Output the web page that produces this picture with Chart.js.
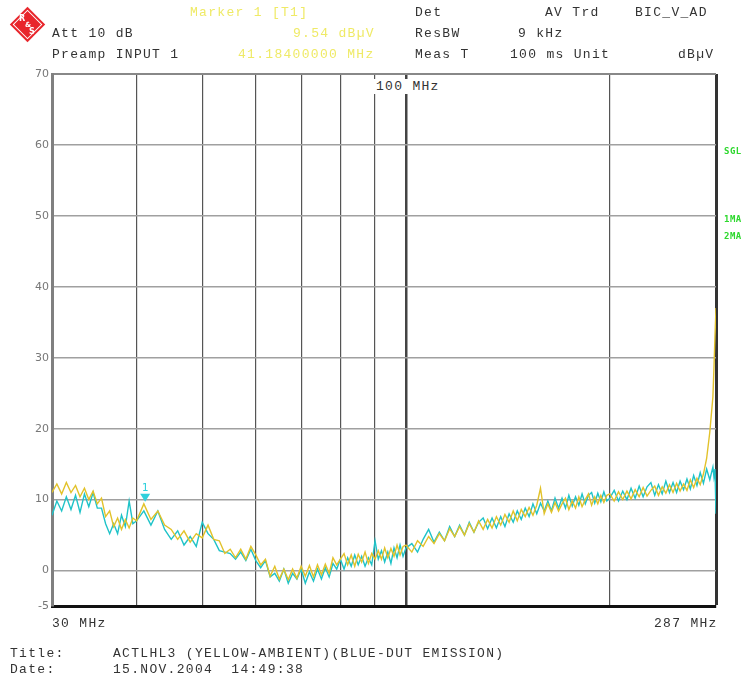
<!DOCTYPE html>
<html>
<head>
<meta charset="utf-8">
<script src="https://cdn.jsdelivr.net/npm/chart.js@4.4.1/dist/chart.umd.min.js"></script>
<style>
  html,body{margin:0;padding:0;background:#fff;}
  #wrap{position:relative;width:748px;height:681px;overflow:hidden;background:#fff;}
  #c{position:absolute;left:0;top:0;}
  .t{position:absolute;font-family:"Liberation Mono","DejaVu Sans Mono",monospace;font-size:13px;line-height:15px;letter-spacing:1.3px;color:#333;white-space:pre;}
  .y{color:#efea66;}
  .g{position:absolute;font-family:"DejaVu Sans Mono",monospace;font-size:9px;font-weight:bold;color:#2ed82e;letter-spacing:0.5px;line-height:11px;}
  #logo{position:absolute;left:15px;top:12px;width:25px;height:25px;background:#e8262c;transform:rotate(45deg);box-shadow:inset 0 0 0 2px #e8262c, inset 0 0 0 3px #fff;}
  .lg{position:absolute;font-family:"DejaVu Sans",sans-serif;font-size:8px;line-height:8px;font-weight:bold;color:#fff;}
</style>
</head>
<body>
<div id="wrap">
  <canvas id="c" width="748" height="681"></canvas>
  <div id="logo"></div>
  <div class="lg" style="left:19px;top:15px;">R</div>
  <div class="lg" style="left:25px;top:21px;font-size:7px;">&amp;</div>
  <div class="lg" style="left:29px;top:28px;">S</div>

  <div class="t y" style="left:190px;top:5px;">Marker 1 [T1]</div>
  <div class="t" style="left:52px;top:26px;">Att 10 dB</div>
  <div class="t y" style="left:293px;top:26px;">9.54 dBµV</div>
  <div class="t" style="left:52px;top:47px;">Preamp INPUT 1</div>
  <div class="t y" style="left:238px;top:47px;">41.18400000 MHz</div>

  <div class="t" style="left:415px;top:5px;">Det</div>
  <div class="t" style="left:545px;top:5px;">AV Trd</div>
  <div class="t" style="left:635px;top:5px;">BIC_V_AD</div>
  <div class="t" style="left:415px;top:26px;">ResBW</div>
  <div class="t" style="left:518px;top:26px;">9 kHz</div>
  <div class="t" style="left:415px;top:47px;">Meas T</div>
  <div class="t" style="left:510px;top:47px;">100 ms Unit</div>
  <div class="t" style="left:678px;top:47px;">dBµV</div>

  <div class="t" style="left:374px;top:79px;background:#fff;padding:0 2px;">100 MHz</div>

  <div class="g" style="left:724px;top:146px;">SGL</div>
  <div class="g" style="left:724px;top:214px;">1MA</div>
  <div class="g" style="left:724px;top:231px;">2MA</div>

  <div class="t" style="left:52px;top:616px;">30 MHz</div>
  <div class="t" style="left:654px;top:616px;">287 MHz</div>
  <div class="t" style="left:10px;top:646px;">Title:</div>
  <div class="t" style="left:113px;top:646px;">ACTLHL3 (YELLOW-AMBIENT)(BLUE-DUT EMISSION)</div>
  <div class="t" style="left:10px;top:662px;">Date:</div>
  <div class="t" style="left:113px;top:662px;">15.NOV.2004  14:49:38</div>
</div>
<script>
// Sweep frequencies (MHz)
const freqs = [
  30,30.5,31,31.5,32,32.5,33,33.5,34,34.5,35,35.5,36,36.5,37,37.5,38,38.5,39,39.5,
  40,41,42,43,44,45,46,47,48,49,50,51,52,53,54,55,56,57,58,59,
  60,61,62,63,64,65,66,67,68,69,70,71,72,73,74,75,76,77,78,79,
  80,81,82,83,84,85,86,87,88,89,90,91,92,93,94,95,96,97,98,99,
  100,102,104,106,108,110,112,114,116,118,120,122,124,126,128,130,132,134,136,138,
  140,142,144,146,148,150,152,154,156,158,160,162,164,166,168,170,172,174,176,178,
  180,182,184,186,188,190,192,194,196,198,
  200,203,206,209,212,215,218,221,224,227,230,233,236,239,242,245,248,251,254,257,
  260,263,266,269,272,275,278,281,284,285,286,287
];
// Yellow trace: ambient (dBµV)
const ambient = [
  11.0,12.2,10.8,12.4,11.0,12.0,10.4,11.6,10.0,11.2,9.4,10.2,7.6,8.4,6.2,7.4,5.8,7.2,6.0,7.4,
  7.0,9.4,7.2,8.4,6.4,5.8,4.4,5.6,4.0,5.2,4.6,6.4,4.4,4.2,2.4,3.0,1.8,3.0,1.6,3.4,
  2.2,0.8,1.6,-0.8,0.6,-1.2,0.2,-1.3,0.2,-1.1,0.6,-0.8,0.7,-0.9,0.8,-0.6,0.9,-0.4,1.8,0.8,
  1.6,2.4,0.8,2.2,0.6,2.3,1.2,2.6,1.0,2.4,1.6,2.8,1.6,3.2,1.8,3.1,2.0,3.6,2.2,3.4,
  3.6,2.6,4.2,3.4,4.8,3.8,5.2,4.2,5.9,4.8,6.2,5.0,6.6,5.4,7.0,5.8,7.2,6.0,7.6,6.4,
  7.9,6.8,8.4,7.0,8.6,7.6,8.9,7.8,9.2,11.6,8.0,9.4,8.2,9.6,8.4,9.4,10.2,8.6,9.8,8.8,
  10.4,9.0,10.0,10.8,9.2,10.4,9.4,10.6,9.6,10.6,
  10.8,9.8,11.1,10.0,11.2,10.1,11.4,10.4,11.7,10.5,11.3,11.9,10.6,11.8,10.9,12.1,11.0,12.3,11.2,12.2,
  11.3,12.8,11.7,13.0,12.1,13.6,15.8,19.5,24.5,28.5,33.0,37.0
];
// Blue trace: DUT emission (dBµV)
const emission = [
  7.8,9.8,8.4,10.4,8.6,10.6,8.2,10.8,9.0,11.0,8.8,8.8,6.6,5.2,6.6,5.2,7.8,6.2,9.8,6.6,
  7.0,8.4,6.4,8.4,5.8,4.4,5.6,3.6,4.8,3.4,6.8,5.2,4.4,2.8,2.6,2.4,1.6,2.6,1.4,3.0,
  1.4,0.4,1.4,-0.9,-0.4,-1.5,0.2,-1.8,-0.4,-1.2,0.2,-1.8,-0.2,-1.5,0.2,-1.2,0.4,-0.9,1.0,0.2,
  1.6,0.2,1.8,0.6,2.2,0.8,2.0,0.6,1.8,0.8,4.2,1.6,2.8,1.2,2.6,1.0,3.2,1.8,3.6,2.0,
  3.2,3.8,2.6,4.4,5.8,4.0,5.4,4.2,6.2,4.8,6.4,5.0,6.8,5.4,6.8,7.4,5.9,7.4,6.0,7.6,
  6.2,8.0,6.8,8.4,7.2,8.8,7.6,9.4,8.0,9.5,8.4,9.8,8.4,10.2,8.8,10.2,8.8,10.6,9.1,10.4,
  9.2,10.8,9.4,10.6,11.0,9.5,10.9,9.7,11.1,9.8,
  10.2,11.3,9.8,11.2,10.0,11.6,10.2,11.9,10.4,11.8,12.4,10.6,12.1,10.8,12.6,11.0,12.4,11.0,12.6,11.4,
  12.9,11.5,13.4,12.0,13.8,12.3,14.3,12.8,14.6,13.2,14.3,8.0
];
const xGridLines = [30,40,50,60,70,80,90,100,200,287];
const yTickValues = [-5,0,10,20,30,40,50,60,70];
const markerFreq = 41.184;
const markerLevel = 9.54;

const markerPlugin = {
  id:'marker',
  afterDatasetsDraw(chart){
    const c = chart.ctx, xs = chart.scales.x, ys = chart.scales.y;
    const px = xs.getPixelForValue(markerFreq), py = ys.getPixelForValue(markerLevel);
    c.save();
    c.fillStyle = '#2fd0dc';
    c.beginPath();
    c.moveTo(px, py - 1);
    c.lineTo(px - 5, py - 9);
    c.lineTo(px + 5, py - 9);
    c.closePath();
    c.fill();
    c.font = '11px "DejaVu Sans Mono", monospace';
    c.textAlign = 'center';
    c.textBaseline = 'middle';
    c.fillText('1', px, py - 15);
    c.restore();
  }
};

new Chart(document.getElementById('c'), {
  type:'line',
  data:{
    datasets:[
      {label:'Ambient', data:freqs.map((f,i)=>({x:f,y:ambient[i]})), borderColor:'#e2c22a', borderWidth:1.4, pointRadius:0, tension:0},
      {label:'Emission', data:freqs.map((f,i)=>({x:f,y:emission[i]})), borderColor:'#1fc3c8', borderWidth:1.4, pointRadius:0, tension:0}
    ]
  },
  options:{
    responsive:false, animation:false, devicePixelRatio:1,
    layout:{padding:{top:74,right:32,left:0,bottom:0}},
    plugins:{legend:{display:false}, tooltip:{enabled:false}},
    scales:{
      x:{
        type:'logarithmic', min:30, max:287,
        afterBuildTicks:s=>{ s.ticks = xGridLines.map(v=>({value:v})); },
        afterFit:s=>{ s.height = 75; },
        ticks:{display:false},
        grid:{
          drawTicks:false,
          color:ctx=>{ const v=ctx.tick&&ctx.tick.value; if(v===30) return 'rgba(0,0,0,0)'; if(v===287) return '#333'; if(v===100) return '#444'; return '#555'; },
          lineWidth:ctx=>{ const v=ctx.tick&&ctx.tick.value; if(v===287) return 3; if(v===100) return 2.5; return 1.2; }
        },
        border:{display:true, color:'#111', width:3}
      },
      y:{
        min:-5, max:70,
        afterBuildTicks:s=>{ s.ticks = yTickValues.map(v=>({value:v})); },
        afterFit:s=>{ s.width = 52; },
        ticks:{font:{family:'DejaVu Sans', size:11}, color:'#777', padding:3},
        grid:{
          drawTicks:false,
          color:ctx=>{ const v=ctx.tick&&ctx.tick.value; if(v===-5) return 'rgba(0,0,0,0)'; if(v===70) return '#888'; return '#a0a0a0'; },
          lineWidth:ctx=>{ const v=ctx.tick&&ctx.tick.value; if(v===70) return 2; return 1.5; }
        },
        border:{display:true, color:'#808080', width:3}
      }
    }
  },
  plugins:[markerPlugin]
});
</script>
</body>
</html>
